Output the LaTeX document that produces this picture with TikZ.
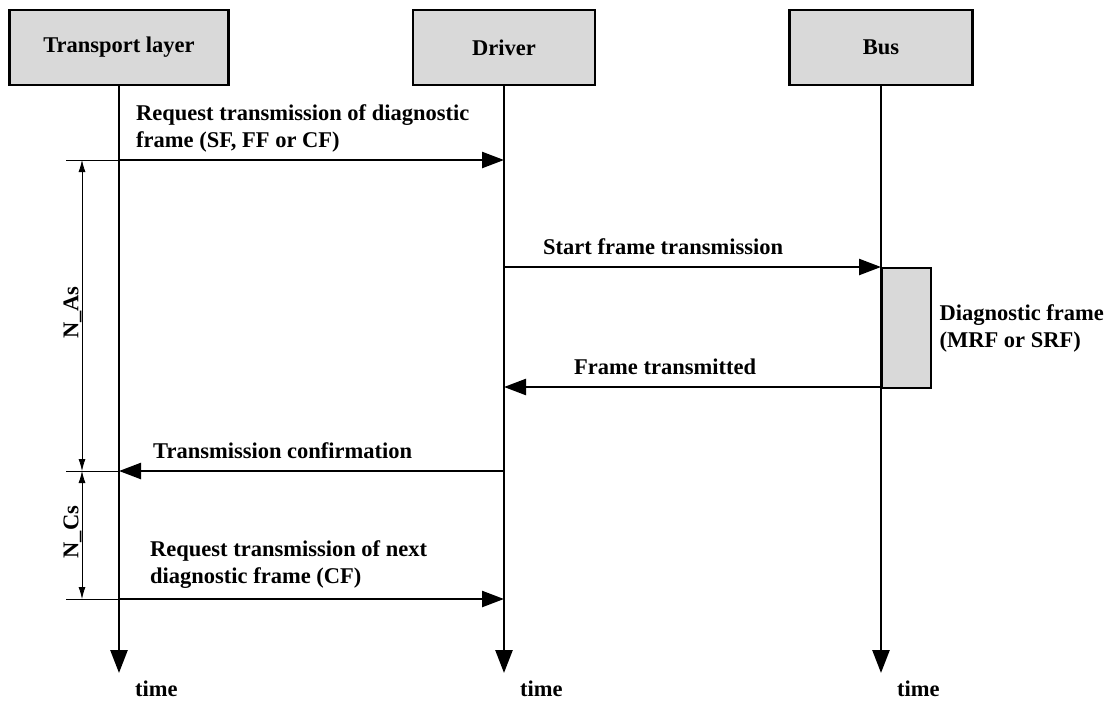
\documentclass[tikz,border=0pt]{standalone}
\usepackage{fontspec}
\setmainfont{Liberation Serif}
\usetikzlibrary{positioning,arrows.meta}

\begin{document}
\begin{tikzpicture}[x=1pt, y=-1pt, font=\fontsize{22.5}{27}\selectfont\bfseries,
		actor/.style={draw, line width=2.6pt, fill=black!15, minimum height=75pt, inner sep=0pt},
		life/.style={line width=2.6pt, -{Triangle[length=23pt,width=17pt]}},
		msg/.style={line width=2.4pt, -{Triangle[length=22pt,width=16pt]}},
		ext/.style={line width=0.8pt},
		dim/.style={line width=0.8pt, {Latex[length=12pt,width=7pt]}-{Latex[length=12pt,width=7pt]}},
		lbl/.style={inner sep=0pt, align=left}]
		\useasboundingbox (0,0) rectangle (1106,702);

		\node [actor, minimum width=219pt] (T) at (119,47.5) {Transport layer};
		\node [actor, minimum width=182pt] (D) at (504,47.5) {Driver};
		\node [actor, minimum width=183pt] (B) at (881,47.5) {Bus};

		\coordinate (Tend) at (119,673);
		\coordinate (Dend) at (504,673);
		\coordinate (Bend) at (881,673);

		\draw [life] (T) -- (Tend);
		\draw [life] (D) -- (Dend);
		\draw [life] (B) -- (Bend);

		\node [below right=8pt and 16pt of Tend, inner sep=0pt] (tT) {time};
		\node [below right=8pt and 16pt of Dend, inner sep=0pt] (tD) {time};
		\node [below right=8pt and 16pt of Bend, inner sep=0pt] (tB) {time};

		\coordinate (m1) at (119,160);
		\coordinate (m2) at (504,267);
		\coordinate (m3) at (881,387);
		\coordinate (m4) at (504,471);
		\coordinate (m5) at (119,599);

		\node [draw, line width=2.4pt, fill=black!15, anchor=north west, minimum width=49pt, minimum height=120pt] (F) at (m2 -| B) {};
		\node [lbl, right=7pt of F] (Fl) {Diagnostic frame\\(MRF or SRF)};

		\draw [msg] (m1) -- (m1 -| D);
		\draw [msg] (m2) -- (m2 -| B);
		\draw [msg] (m3) -- (m3 -| D);
		\draw [msg] (m4) -- (m4 -| T);
		\draw [msg] (m5) -- (m5 -| D);

		\node [lbl, above right=8pt and 17pt of m1] (L1) {Request transmission of diagnostic\\frame (SF, FF or CF)};
		\node [lbl, above right=12pt and 39pt of m2] (L2) {Start frame transmission};
		\node [lbl, above right=12pt and 70pt of m3 -| D] (L3) {Frame transmitted};
		\node [lbl, above right=12pt and 34pt of m4 -| T] (L4) {Transmission confirmation};
		\node [lbl, above right=10pt and 31pt of m5] (L5) {Request transmission of next\\diagnostic frame (CF)};

		% dimension lines
		\draw [ext] (m1) -- ++(-53,0) coordinate (e1);
		\draw [ext] (m4 -| T) -- ++(-53,0) coordinate (e2);
		\draw [ext] (m5) -- ++(-53,0) coordinate (e3);
		\draw [dim] (82,160) -- (82,471) node (As) [midway, above=3pt, rotate=90, inner sep=0pt] {N\_As};
		\draw [dim] (82,471) -- (82,599) node (Cs) [midway, above=3pt, rotate=90, inner sep=0pt] {N\_Cs};
	\end{tikzpicture}
\end{document}
